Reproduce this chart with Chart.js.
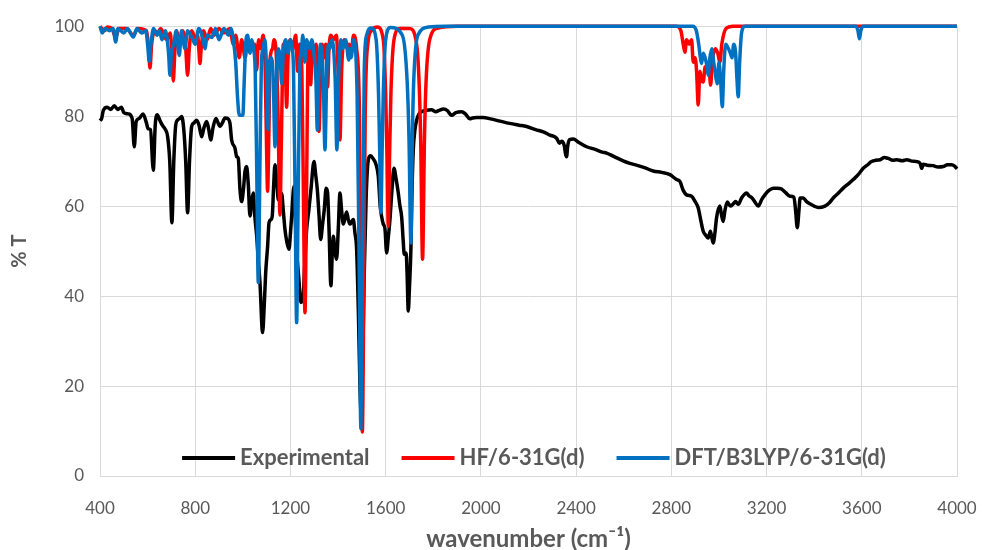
<!DOCTYPE html>
<html lang="en">
<head>
    <meta charset="UTF-8">
    <title>IR spectrum</title>
    <script src="https://cdn.jsdelivr.net/npm/chart.js@4"></script>
    <style>
        body { margin: 0; background: #fff; }
        #wrap { width: 982px; height: 550px; position: relative; }
    </style>
</head>
<body>
    <div id="wrap"><canvas id="irChart"></canvas></div>

    <script>
        // tick labels
        const xTicks = [400, 800, 1200, 1600, 2000, 2400, 2800, 3200, 3600, 4000];
        const yTicks = [0, 20, 40, 60, 80, 100];

        const seriesNames = ["Experimental", "HF/6-31G(d)", "DFT/B3LYP/6-31G(d)"];

        // experimental spectrum
        const expWn = [400, 407, 414, 430, 445, 460, 475, 490, 500, 520, 535, 544, 552, 565, 581, 595, 602, 612, 624, 632,
            640, 652, 662, 675, 684, 693, 702, 710, 718, 725, 735, 743, 752, 760, 768, 776, 785, 795, 806, 816,
            827, 837, 848, 857, 865, 875, 887, 896, 904, 914, 925, 935, 946, 953, 967, 974, 981, 988, 995, 1003,
            1009, 1016, 1023, 1030, 1037, 1044, 1050, 1058, 1065, 1072, 1083, 1090, 1096, 1104, 1110, 1118, 1124, 1129, 1135, 1142,
            1149, 1156, 1163, 1170, 1177, 1185, 1194, 1200, 1205, 1215, 1220, 1226, 1235, 1244, 1252, 1260, 1268, 1277, 1286, 1299,
            1306, 1313, 1320, 1327, 1335, 1342, 1350, 1356, 1362, 1370, 1376, 1380, 1387, 1394, 1401, 1408, 1415, 1422, 1430, 1436,
            1443, 1450, 1457, 1464, 1471, 1478, 1486, 1492, 1497, 1503, 1510, 1518, 1527, 1537, 1548, 1558, 1569, 1577, 1583, 1590,
            1597, 1604, 1611, 1618, 1627, 1635, 1644, 1653, 1660, 1667, 1674, 1678, 1686, 1690, 1695, 1700, 1706, 1710, 1716, 1723,
            1730, 1740, 1751, 1772, 1793, 1810, 1825, 1842, 1860, 1870, 1877, 1895, 1919, 1935, 1954, 1965, 1982, 2010, 2040, 2080,
            2120, 2160, 2192, 2230, 2262, 2290, 2318, 2330, 2339, 2350, 2356, 2360, 2365, 2372, 2388, 2410, 2444, 2480, 2510, 2528,
            2560, 2600, 2626, 2660, 2690, 2724, 2760, 2794, 2822, 2836, 2850, 2864, 2885, 2900, 2913, 2925, 2934, 2945, 2955, 2964,
            2970, 2976, 2983, 2990, 3004, 3011, 3018, 3025, 3035, 3048, 3060, 3070, 3081, 3095, 3105, 3116, 3126, 3137, 3150, 3165,
            3180, 3193, 3210, 3228, 3245, 3263, 3280, 3298, 3315, 3322, 3329, 3336, 3341, 3354, 3368, 3382, 3400, 3417, 3445, 3465,
            3480, 3500, 3522, 3545, 3564, 3585, 3606, 3625, 3641, 3660, 3677, 3695, 3711, 3730, 3747, 3770, 3789, 3810, 3831, 3845,
            3852, 3858, 3875, 3900, 3920, 3942, 3960, 3977, 3990, 4000];
        const expT = [79, 79.5, 81.3, 82, 81.5, 82.3, 81.5, 82, 80.8, 80.5, 79.5, 73.2, 78.8, 79.5, 80.5, 78.5, 77.2, 77, 68, 78,
            80.3, 79, 78, 77, 75.5, 70, 56.3, 70, 78, 79.1, 79.5, 79.9, 77, 70, 58.5, 70, 77.7, 78.5, 79.1, 78,
            75.4, 77.5, 78.8, 77, 74.7, 77.5, 79.5, 78.5, 77.7, 78.5, 79.6, 79.5, 78.4, 74.7, 72.9, 71, 70.6, 63.7, 61, 64,
            67.7, 68.8, 64.7, 57.8, 61, 62.9, 58, 53.5, 48, 43, 31.9, 38, 45.2, 51, 56.3, 57, 58, 64, 69.2, 66,
            61.4, 62.5, 62.8, 59, 54.8, 52, 50.4, 54, 57.7, 64.4, 58, 50.4, 44, 38.6, 39, 47, 54.8, 59, 63.6, 69.9,
            67, 63.6, 58, 52.6, 56, 59.2, 64, 63, 55, 42.3, 50, 53.3, 50, 48.2, 55, 62.9, 59, 56, 57.5, 58.7,
            57, 56, 56.5, 57, 54, 50.4, 35, 20, 14, 25, 45, 62, 70.3, 71.2, 70.5, 69.5, 66.6, 60, 57.7, 56,
            55, 49.6, 53, 57, 64, 68.4, 66, 62.9, 60, 57.7, 52, 49.3, 49.6, 45, 36.7, 42, 50.4, 62, 72.5, 77,
            79.1, 80.5, 81, 81.3, 81.4, 81, 81.3, 81.6, 81.2, 80.5, 80.2, 80.8, 81, 80.5, 79.4, 79.6, 79.7, 79.7, 79.4, 78.9,
            78.4, 78, 77.7, 77, 76.5, 75.8, 75.1, 74, 74.4, 73.5, 71.5, 71, 73.5, 74.8, 74.9, 74.2, 73.2, 72.6, 72, 71.8,
            71, 70, 69.5, 69, 68.5, 67.8, 67.5, 67, 65.9, 65.5, 63.5, 62.5, 62.2, 61, 59.6, 56.5, 54.4, 53.5, 52.9, 54.4,
            53, 51.8, 54, 57.4, 60, 58, 56.6, 59, 60.9, 60, 60.5, 61, 60.4, 61.8, 62.5, 62.9, 62.3, 61.9, 61, 60,
            61.5, 62.5, 63.5, 64, 64, 63.8, 63, 62.2, 62, 59, 55.2, 59, 61.8, 61.8, 61, 60.5, 60, 59.7, 60, 60.8,
            61.8, 62.8, 64, 65, 65.9, 67, 68.4, 69.2, 69.9, 70.2, 70.3, 70.8, 70.6, 70.2, 70.3, 70.1, 70.3, 70, 69.9, 69.5,
            68.4, 69.3, 69.1, 69, 68.7, 68.8, 69.2, 69.2, 68.9, 68.3];

        // HF/6-31G(d) computed spectrum
        const hfWn = [400, 410, 420, 430, 450, 466, 480, 510, 540, 560, 595, 603, 610, 617, 630, 640, 655, 680, 695, 702,
            708, 714, 722, 735, 748, 760, 768, 775, 785, 800, 810, 815, 820, 825, 835, 850, 865, 880, 900, 920,
            945, 960, 970, 985, 995, 1010, 1020, 1040, 1050, 1058, 1066, 1075, 1085, 1094, 1100, 1104, 1109, 1115, 1125, 1130,
            1140, 1148, 1156, 1162, 1170, 1178, 1184, 1190, 1200, 1210, 1222, 1230, 1238, 1248, 1255, 1261, 1267, 1275, 1285, 1292,
            1300, 1308, 1315, 1320, 1326, 1333, 1340, 1348, 1356, 1362, 1370, 1380, 1393, 1400, 1408, 1415, 1425, 1440, 1447, 1455,
            1465, 1478, 1490, 1496, 1502, 1508, 1514, 1525, 1540, 1565, 1590, 1600, 1606, 1611, 1616, 1622, 1635, 1660, 1700, 1730,
            1740, 1747, 1755, 1763, 1770, 1785, 1820, 1900, 2820, 2840, 2850, 2857, 2864, 2875, 2885, 2892, 2900, 2906, 2913, 2920,
            2927, 2934, 2942, 2950, 2958, 2965, 2972, 2985, 2995, 3004, 3012, 3030, 3060, 4000];
        const hfT = [100, 99.3, 99, 99.8, 99.5, 97.5, 99.5, 99.5, 98, 99.5, 99, 96, 90.7, 96, 99, 98.5, 99.5, 97, 98.5, 94,
            87.8, 94, 99, 96, 99, 95, 89.1, 95, 99, 97.5, 98, 95, 91.7, 95, 99, 97, 99.5, 98, 99.5, 98.5,
            99.5, 96, 98, 93, 97, 93, 97, 95, 96, 90.2, 97, 95, 98, 90, 72, 63.3, 75, 93, 95, 97,
            94, 80, 58, 75, 96, 92, 82, 93, 97, 95, 98, 90, 96, 90, 60, 36.3, 60, 95, 87, 96,
            93, 96, 88, 76.6, 88, 96, 93, 96, 86.5, 95, 98, 97, 98, 90, 74.7, 90, 97, 95, 96, 94,
            98, 95, 80, 40, 9.8, 40, 80, 96, 99, 99.8, 97, 85, 70, 55.5, 70, 85, 97, 99.5, 99.5, 96,
            88, 75, 48.2, 75, 88, 97, 99.6, 100, 100, 99, 96, 94.2, 97, 96, 97, 92, 93, 90, 82.5, 90,
            88, 87.6, 91, 90, 91, 86.9, 92, 95, 94, 92, 96, 99.5, 100, 100];

        // DFT/B3LYP/6-31G(d) computed spectrum
        const dftWn = [400, 410, 420, 440, 455, 466, 475, 500, 515, 540, 555, 575, 592, 600, 607, 614, 625, 640, 650, 660,
            675, 688, 694, 700, 710, 720, 733, 742, 757, 768, 790, 800, 815, 833, 841, 850, 870, 885, 900, 920,
            940, 950, 960, 970, 978, 985, 1000, 1006, 1012, 1020, 1030, 1038, 1045, 1052, 1058, 1065, 1072, 1078, 1085, 1092,
            1100, 1106, 1112, 1120, 1128, 1135, 1142, 1150, 1157, 1163, 1170, 1180, 1190, 1200, 1205, 1213, 1220, 1226, 1232, 1240,
            1245, 1252, 1260, 1268, 1280, 1290, 1300, 1307, 1313, 1319, 1326, 1330, 1338, 1345, 1352, 1360, 1365, 1375, 1388, 1395,
            1402, 1412, 1420, 1432, 1445, 1450, 1455, 1465, 1480, 1488, 1496, 1503, 1510, 1520, 1540, 1560, 1570, 1575, 1580, 1585,
            1590, 1600, 1620, 1670, 1690, 1698, 1706, 1712, 1718, 1735, 1780, 1850, 2890, 2905, 2915, 2922, 2927, 2934, 2942, 2950,
            2955, 2962, 2970, 2978, 2986, 2993, 3000, 3007, 3014, 3020, 3028, 3040, 3048, 3055, 3062, 3070, 3076, 3081, 3087, 3095,
            3110, 3575, 3584, 3590, 3596, 3605, 4000];
        const dftT = [100, 98.5, 99.5, 99, 99.5, 96.5, 99.5, 98.5, 99.5, 97.6, 99.5, 98.5, 99, 96, 92.2, 96, 99.5, 98, 99, 97,
            99, 94, 89.1, 94, 96, 99, 93.5, 99, 95, 99, 97, 96, 99.5, 97, 95, 98, 97.5, 99.5, 97, 99.5,
            98, 99.5, 97, 92, 84, 80.2, 80.2, 88, 96, 98, 94, 97, 95, 90, 70, 43, 70, 92, 95, 97,
            90, 77, 92, 93, 88, 73.2, 88, 95, 93, 87.2, 94, 97, 94, 97, 96, 90, 60, 34.1, 60, 92,
            94, 98, 92, 97, 95, 97, 93, 88, 76.9, 88, 96, 95, 88, 72.5, 88, 96, 95, 97, 88, 72.5,
            88, 97, 95, 97, 92.5, 95, 93, 97, 85, 50, 10.5, 50, 90, 98, 99.6, 97, 85, 72, 58.5, 72,
            85, 97, 99.7, 98, 88, 75, 51.8, 75, 88, 98, 99.8, 100, 100, 99, 96, 93, 91.7, 94, 93, 91,
            89.1, 93, 95, 92, 89, 87.2, 92, 88, 82.1, 90, 96, 95, 94, 93, 96, 94, 88, 84.3, 92, 98.5,
            100, 100, 99, 97.2, 99, 100, 100];

        const colors = ["#000000", "#FF0000", "#0070C0"];
        const textColor = "#595959";
        const fontFamily = "Lato, 'Noto Sans', sans-serif";

        function toPoints(xs, ys) {
            return xs.map((x, i) => ({ x: x, y: ys[i] }));
        }

        // legend drawn inside the plot, near the bottom like the original
        const insideLegend = {
            id: 'insideLegend',
            afterDraw(chart) {
                const ctx = chart.ctx;
                const lineLen = 53, gapText = 5, gapItem = 32;
                ctx.save();
                ctx.font = "bold 22px " + fontFamily;
                const widths = seriesNames.map(n => ctx.measureText(n).width);
                let total = 0;
                widths.forEach(w => total += lineLen + gapText + w);
                total += gapItem * (seriesNames.length - 1);
                let x = 534 - total / 2;
                const y = 458;
                seriesNames.forEach((name, i) => {
                    ctx.strokeStyle = colors[i];
                    ctx.lineWidth = 4;
                    ctx.beginPath();
                    ctx.moveTo(x, y);
                    ctx.lineTo(x + lineLen, y);
                    ctx.stroke();
                    ctx.fillStyle = textColor;
                    ctx.textBaseline = 'middle';
                    ctx.fillText(name, x + lineLen + gapText, y);
                    x += lineLen + gapText + widths[i] + gapItem;
                });
                ctx.restore();
            }
        };

        const ctx = document.getElementById('irChart').getContext('2d');
        new Chart(ctx, {
            type: 'line',
            data: {
                datasets: [
                    { label: seriesNames[0], data: toPoints(expWn, expT), borderColor: colors[0], order: 2 },
                    { label: seriesNames[1], data: toPoints(hfWn, hfT), borderColor: colors[1], order: 1 },
                    { label: seriesNames[2], data: toPoints(dftWn, dftT), borderColor: colors[2], order: 0 }
                ]
            },
            options: {
                responsive: true,
                maintainAspectRatio: false,
                animation: false,
                layout: { padding: { top: 19, right: 25, left: 8, bottom: 0 } },
                elements: {
                    point: { radius: 0 },
                    line: { borderWidth: 3.5, cubicInterpolationMode: 'monotone', fill: false, borderJoinStyle: 'round' }
                },
                datasets: { line: { clip: false } },
                plugins: {
                    legend: { display: false },
                    tooltip: { enabled: false }
                },
                scales: {
                    x: {
                        type: 'linear',
                        min: 400,
                        max: 4000,
                        afterBuildTicks: (scale) => { scale.ticks = xTicks.map(v => ({ value: v })); },
                        afterFit: (scale) => { scale.height = 74; },
                        grid: { color: '#d9d9d9', drawTicks: true, tickLength: 20, tickColor: 'rgba(0,0,0,0)' },
                        border: { color: '#d9d9d9' },
                        ticks: {
                            color: textColor, font: { family: fontFamily, size: 17 }, padding: 2, maxRotation: 0,
                            callback: (v) => String(v)
                        },
                        title: {
                            display: true,
                            text: 'wavenumber (cm⁻¹)',
                            color: textColor,
                            font: { family: fontFamily, size: 24, weight: 'bold', lineHeight: 0.9 },
                            padding: 0
                        }
                    },
                    y: {
                        min: 0,
                        max: 100,
                        afterBuildTicks: (scale) => { scale.ticks = yTicks.map(v => ({ value: v })); },
                        afterFit: (scale) => { scale.width = 92; },
                        grid: { color: '#d9d9d9', drawTicks: false },
                        border: { display: false },
                        ticks: { color: textColor, font: { family: fontFamily, size: 17 }, padding: 16 },
                        title: {
                            display: true,
                            text: '% T',
                            color: textColor,
                            font: { family: fontFamily, size: 20, weight: 'bold' },
                            padding: 0
                        }
                    }
                }
            },
            plugins: [insideLegend]
        });
    </script>
</body>
</html>
